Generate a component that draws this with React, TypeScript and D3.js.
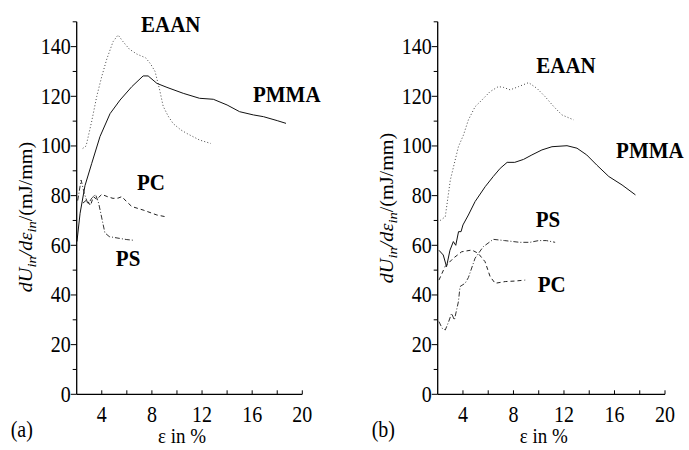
import React from "react";
import * as d3 from "d3";

type Pt = [number, number];

// (a) strain in %, dU/de in mJ/mm
const eaanA: Pt[] = [[2.48,99],[2.75,100],[3.2,110],[3.6,120],[4.0,128],[4.4,135],[4.9,142],[5.3,144.7],[5.7,142],[6.2,139],[6.8,137],[7.5,135.5],[7.9,133],[8.25,130],[8.6,123],[8.9,116],[9.3,112],[9.7,109],[10.3,106.5],[10.8,105],[11.8,102.4],[12.7,101]];
const pmmaA: Pt[] = [[2.02,61.5],[2.27,72.9],[2.66,84],[3.2,93],[3.86,103.8],[4.66,113],[5.46,118.5],[6.4,123.9],[7.3,128.2],[7.7,128.2],[8.4,125.2],[9.2,123.6],[10.5,121.2],[11.8,119.2],[12.9,118.8],[14,116.5],[15,113.8],[16.1,112.5],[16.9,111.8],[18,110.2],[18.7,109.1]];
const pcA: Pt[] = [[2.5,77],[2.8,78.3],[3.1,76],[3.33,79.6],[3.6,78.5],[4.0,80.5],[4.5,79.5],[4.9,78.9],[5.3,79],[5.6,79.6],[6.0,77.5],[6.4,75.6],[7.3,74.2],[8.4,72.2],[9.1,71.5]];
const psA: Pt[] = [[2.08,78],[2.35,86.3],[2.6,81],[2.9,76.5],[3.2,79],[3.5,80.5],[3.75,77],[4.0,71],[4.25,65],[4.6,63.5],[5.4,62.8],[6.0,62.3],[6.6,62]];

// (b)
const eaanB: Pt[] = [[2.2,70],[2.6,71.5],[3.0,86.3],[3.64,99.7],[4.04,104.4],[4.43,110.5],[4.96,115.8],[5.5,118.5],[6.15,121.9],[6.8,123.9],[7.2,123.6],[7.74,122.6],[8.4,123.9],[9.2,125.5],[9.86,123.2],[10.5,119.9],[11.2,115.8],[11.84,112.5],[12.77,110.5]];
const pmmaB: Pt[] = [[2.1,58],[2.44,56.1],[2.7,51.4],[2.97,58],[3.24,61.5],[3.43,60],[3.65,65.5],[3.85,65.5],[4.0,68.2],[4.43,72.2],[4.96,77.6],[5.76,83.6],[6.4,87.7],[6.95,91],[7.5,93.4],[8.1,93.4],[8.8,94.6],[9.46,96.4],[10.25,98.4],[11.05,99.7],[12.24,100.1],[13.03,99.1],[13.8,96.4],[14.6,92.3],[15.55,87.7],[16.6,84.3],[17.66,80.3]];
const psB: Pt[] = [[2.1,29.3],[2.35,26.6],[2.6,25.9],[2.85,29],[3.1,32.6],[3.32,29.9],[3.64,37.3],[3.77,43.4],[4.17,44.7],[4.43,47],[4.96,54.8],[5.6,59.4],[6.4,62.4],[7.3,61.9],[8.5,61.2],[9.3,61.2],[10,61.9],[10.6,61.9],[11.3,61.2]];
const pcB: Pt[] = [[2.1,46],[2.58,51.4],[3.24,54.8],[3.9,57.4],[4.7,58.1],[5.2,56.8],[5.75,53.4],[6.15,47.4],[6.55,44.7],[7.35,45.4],[8.1,45.6],[8.93,46]];

const xTickLabels = [4, 8, 12, 16, 20];
const yTickLabels = [0, 20, 40, 60, 80, 100, 120, 140];

// annotation anchors in data units
const notesA = [
  { text: "EAAN", at: [9.5, 146] as Pt },
  { text: "PMMA", at: [18.76, 117.8] as Pt },
  { text: "PC", at: [7.93, 82.3] as Pt },
  { text: "PS", at: [6.1, 51.8] as Pt },
];
const notesB = [
  { text: "EAAN", at: [12.16, 129.3] as Pt },
  { text: "PMMA", at: [18.8, 95] as Pt },
  { text: "PS", at: [10.73, 67.5] as Pt },
  { text: "PC", at: [11.03, 41.3] as Pt },
];

const FONT = '"Liberation Serif", "Times New Roman", serif';
const SY = 1.12;

const STYLES = {
  solid: { stroke: "#111", dash: undefined },
  dotted: { stroke: "#444", dash: "1,2.2" },
  dashed: { stroke: "#222", dash: "4,3" },
  dashdot: { stroke: "#333", dash: "5,2,1,2" },
};

function Txt(props: { x: number; y: number; size?: number; anchor?: string; weight?: string; rotate?: boolean; children: React.ReactNode }) {
  const { x, y, size = 20, anchor = "middle", weight = "normal", rotate, children } = props;
  return (
    <text
      transform={`translate(${x},${y}) scale(1,${SY})${rotate ? " rotate(-90)" : ""}`}
      fontFamily={FONT}
      fontSize={size}
      fontWeight={weight}
      textAnchor={anchor}
      fill="#000"
    >
      {children}
    </text>
  );
}

interface PanelProps {
  x0: number;
  width: number;
  tag: string;
  labelY: number;
  series: { data: Pt[]; style: keyof typeof STYLES }[];
  notes: { text: string; at: Pt }[];
}

function Panel({ x0, width, tag, labelY, series, notes }: PanelProps) {
  const x = d3.scaleLinear().domain([2, 20]).range([x0, x0 + width]);
  const y = d3.scaleLinear().domain([0, 150]).range([394.3, 21.8]);
  const line = d3.line<Pt>().x((d) => x(d[0])).y((d) => y(d[1])).curve(d3.curveLinear);
  const y0 = y(0);

  return (
    <g>
      {series.map((s, i) => (
        <path key={i} d={line(s.data) || ""} fill="none" stroke={STYLES[s.style].stroke}
          strokeWidth={1} strokeDasharray={STYLES[s.style].dash} />
      ))}

      {/* axes */}
      <line x1={x0} x2={x0} y1={y(150)} y2={y0} stroke="#000" strokeWidth={1.3} />
      <line x1={x0} x2={x(20)} y1={y0} y2={y0} stroke="#000" strokeWidth={1.3} />

      {d3.range(10, 151, 10).map((v) => (
        <line key={"yt" + v} x1={x0} x2={x0 - (v % 20 === 0 ? 6 : 4)} y1={y(v)} y2={y(v)} stroke="#000" strokeWidth={1} />
      ))}
      <line x1={x0} x2={x0 - 6} y1={y0} y2={y0} stroke="#000" strokeWidth={1} />
      {yTickLabels.map((v) => (
        <Txt key={"yl" + v} x={x0 - 6} y={y(v) + 7.3} anchor="end">{v}</Txt>
      ))}

      {d3.range(4, 21, 2).map((v) => (
        <line key={"xt" + v} x1={x(v)} x2={x(v)} y1={y0} y2={y0 - 4} stroke="#000" strokeWidth={1} />
      ))}
      {xTickLabels.map((v) => (
        <Txt key={"xl" + v} x={x(v)} y={421.7}>{v}</Txt>
      ))}

      <Txt x={x(10.4)} y={443} size={19}>ε in %</Txt>
      <Txt x={x0 - 66} y={437} anchor="start">{tag}</Txt>

      <Txt x={x0 - 45} y={labelY} rotate size={18}>
        <tspan fontStyle="italic">dU</tspan>
        <tspan fontStyle="italic" fontSize={13} dy={4.5}>in</tspan>
        <tspan fontStyle="italic" dy={-4.5}>/dε</tspan>
        <tspan fontStyle="italic" fontSize={13} dy={4.5}>in</tspan>
        <tspan dy={-4.5}>/(mJ/mm)</tspan>
      </Txt>

      {notes.map((n) => (
        <Txt key={n.text} x={x(n.at[0])} y={y(n.at[1])} size={21} weight="bold">{n.text}</Txt>
      ))}
    </g>
  );
}

export default function App() {
  return (
    <svg width={689} height={450} style={{ position: "absolute", left: 0, top: 0, background: "#fff" }}>
      <Panel
        x0={76.7}
        width={225.6}
        tag="(a)"
        labelY={217}
        series={[
          { data: eaanA, style: "dotted" },
          { data: pmmaA, style: "solid" },
          { data: pcA, style: "dashed" },
          { data: psA, style: "dashdot" },
        ]}
        notes={notesA}
      />
      <Panel
        x0={437.7}
        width={227.3}
        tag="(b)"
        labelY={208}
        series={[
          { data: eaanB, style: "dotted" },
          { data: pmmaB, style: "solid" },
          { data: psB, style: "dashdot" },
          { data: pcB, style: "dashed" },
        ]}
        notes={notesB}
      />
    </svg>
  );
}
